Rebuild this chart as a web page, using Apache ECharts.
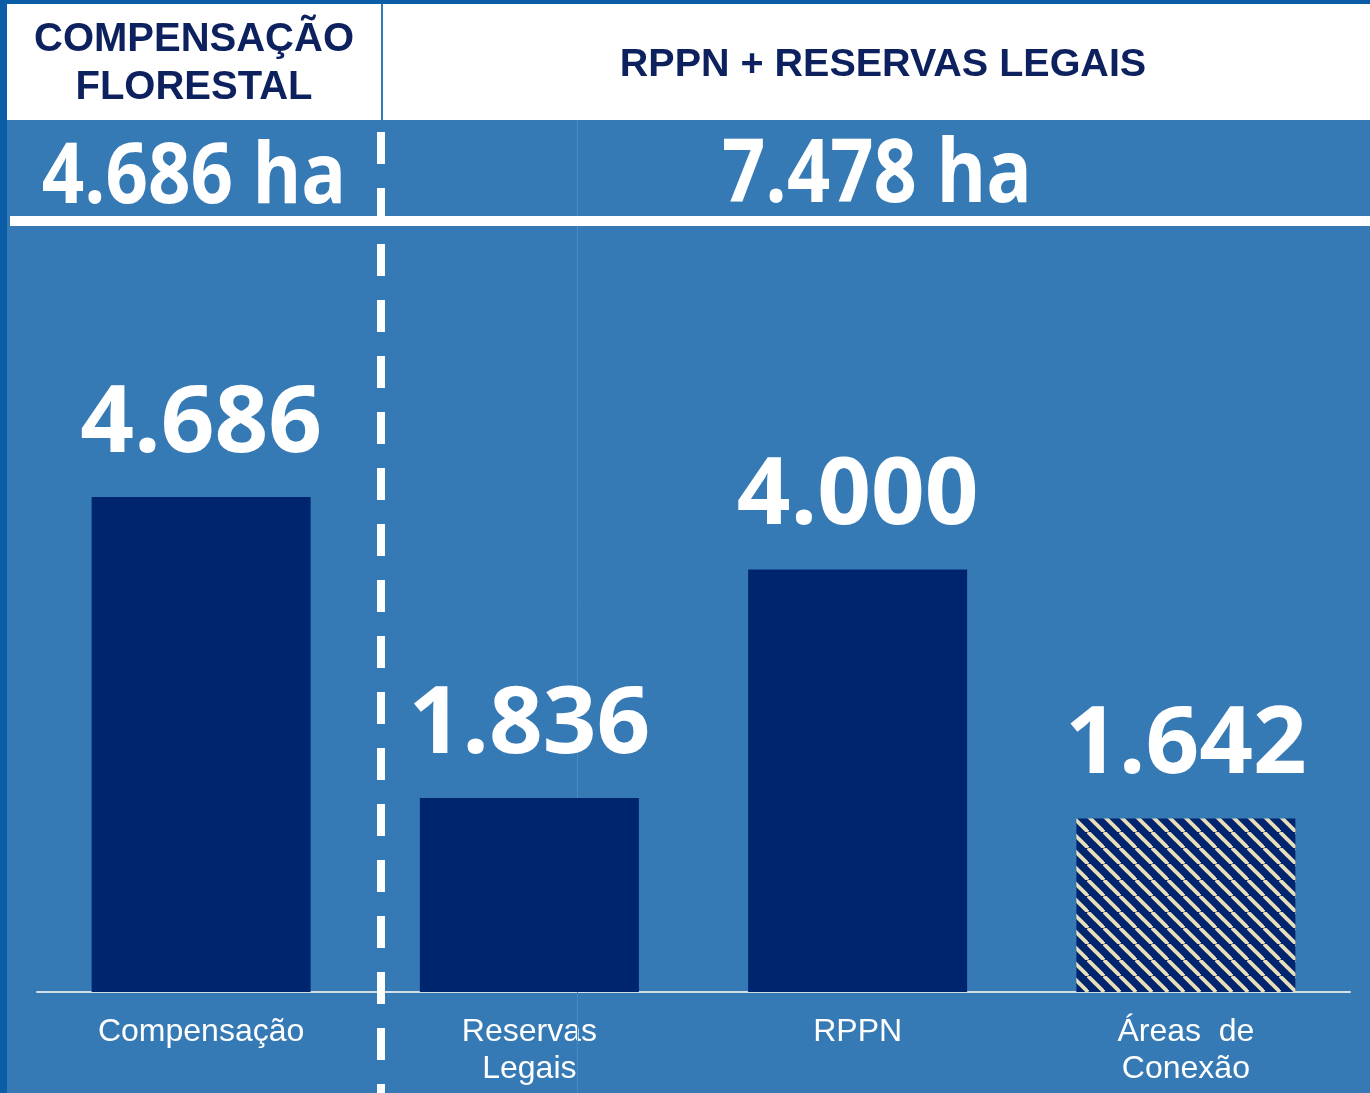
<!DOCTYPE html>
<html>
<head>
<meta charset="utf-8">
<script src="https://cdn.jsdelivr.net/npm/echarts@6/dist/echarts.min.js"></script>
<style>
html,body{margin:0;padding:0;background:#367AB5;}
#chart{width:1370px;height:1093px;}
</style>
</head>
<body>
<div id="chart"></div>
<script>
const categories = ['Compensação', 'Reservas\nLegais', 'RPPN', 'Áreas  de\nConexão'];
const values = [4686, 1836, 4000, 1642];
const groupTitles = ['COMPENSAÇÃO\nFLORESTAL', 'RPPN + RESERVAS LEGAIS'];
const groupTotals = ['4.686 ha', '7.478 ha'];
const hatchedIndex = [3];

const BG = '#367AB5';
const NAVY = '#00256F';
const TEXT_NAVY = '#0D215E';
const BEIGE = '#E8DFB8';

function fmt(v) {
  return String(v).replace(/\B(?=(\d{3})+(?!\d))/g, '.');
}

function hatchPattern() {
  const s = 16;
  const c = document.createElement('canvas');
  c.width = s; c.height = s;
  const g = c.getContext('2d');
  g.fillStyle = NAVY;
  g.fillRect(0, 0, s, s);
  g.strokeStyle = BEIGE;
  g.lineWidth = 3.8;
  for (const x0 of [-s, 0, s]) {
    g.beginPath();
    g.moveTo(x0, 0);
    g.lineTo(x0 + s, s);
    g.stroke();
  }
  return c;
}
const hatch = hatchPattern();

const chart = echarts.init(document.getElementById('chart'), null, {renderer: 'canvas'});

const barData = values.map((v, i) => ({
  value: v,
  itemStyle: {
    color: hatchedIndex.includes(i) ? {image: hatch, repeat: 'repeat'} : NAVY
  }
}));

const option = {
  backgroundColor: BG,
  animation: false,
  grid: {left: 37, right: 20, bottom: 101, top: 147},
  xAxis: {
    type: 'category',
    data: categories,
    axisLine: {show: true, lineStyle: {color: '#D8DEE6', width: 2}},
    axisTick: {show: false},
    axisLabel: {
      color: '#FFFFFF',
      fontFamily: 'Liberation Sans, Arial, sans-serif',
      fontSize: 32,
      lineHeight: 37,
      margin: 22,
      interval: 0
    }
  },
  yAxis: {
    type: 'value',
    min: 0,
    max: 8000,
    show: false,
    splitLine: {show: false}
  },
  series: [{
    type: 'bar',
    data: barData,
    barWidth: 219,
    label: {
      show: true,
      position: 'top',
      distance: 25,
      formatter: p => fmt(p.value),
      color: '#FFFFFF',
      fontFamily: 'Open Sans',
      fontWeight: 'bold',
      fontSize: 94
    }
  }],
  graphic: [
    {type: 'rect', shape: {x: 0, y: 0, width: 1370, height: 4}, style: {fill: '#0B5DA8'}, z: 10},
    {type: 'rect', shape: {x: 0, y: 0, width: 7, height: 1093}, style: {fill: '#0B5DA8'}, z: 10},
    {type: 'rect', shape: {x: 7, y: 4, width: 374, height: 116}, style: {fill: '#FFFFFF'}, z: 10},
    {type: 'rect', shape: {x: 383, y: 4, width: 987, height: 116}, style: {fill: '#FFFFFF'}, z: 10},
    {type: 'text', x: 194, y: 64, style: {text: groupTitles[0], fill: TEXT_NAVY, font: 'bold 40px "Liberation Sans", Arial, sans-serif', lineHeight: 48, align: 'center', verticalAlign: 'middle'}, z: 11},
    {type: 'text', x: 883, y: 65, style: {text: groupTitles[1], fill: TEXT_NAVY, font: 'bold 39.5px "Liberation Sans", Arial, sans-serif', align: 'center', verticalAlign: 'middle'}, z: 11},
    {type: 'line', shape: {x1: 577.5, y1: 120, x2: 577.5, y2: 1093}, style: {stroke: '#4A89C1', lineWidth: 1}, z: 1},
    {type: 'text', x: 194, y: 179, scaleX: 0.875, style: {text: groupTotals[0], fill: '#FFFFFF', font: 'bold 85px "Open Sans"', align: 'center', verticalAlign: 'middle'}, z: 11},
    {type: 'text', x: 877, y: 177, scaleX: 0.87, style: {text: groupTotals[1], fill: '#FFFFFF', font: 'bold 87px "Open Sans"', align: 'center', verticalAlign: 'middle'}, z: 11},
    {type: 'rect', shape: {x: 10, y: 216, width: 1360, height: 10}, style: {fill: '#FFFFFF'}, z: 10},
    {type: 'line', shape: {x1: 381, y1: 132, x2: 381, y2: 1093}, style: {stroke: '#FFFFFF', lineWidth: 8, lineDash: [32, 24]}, z: 10}
  ]
};
chart.setOption(option);
</script>
</body>
</html>
